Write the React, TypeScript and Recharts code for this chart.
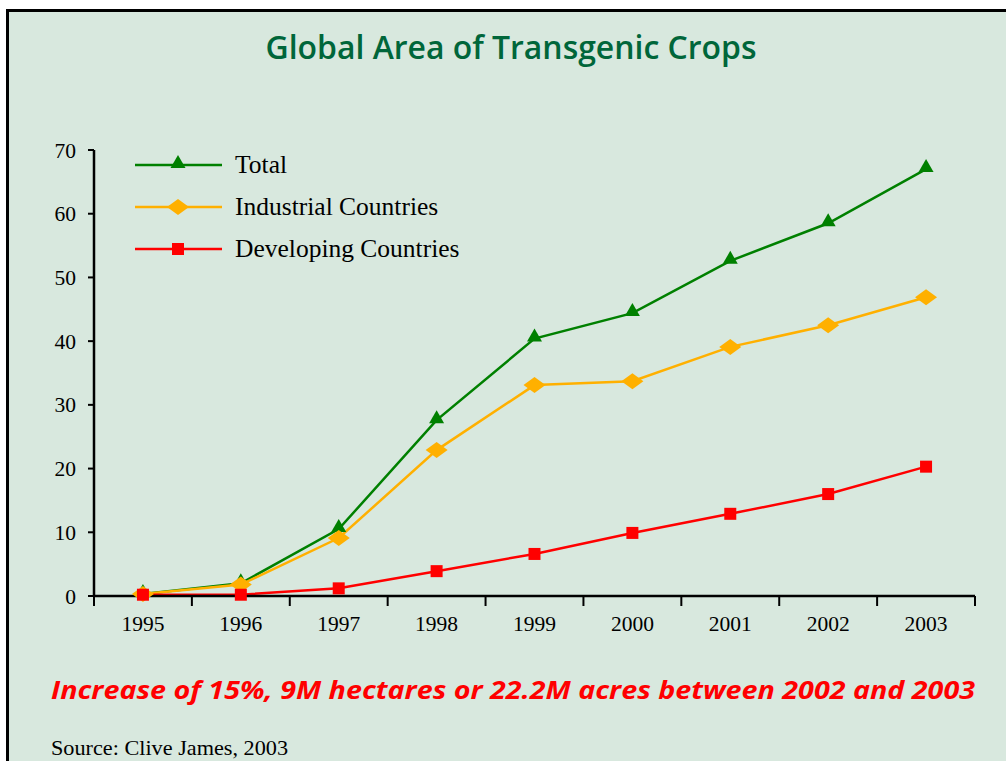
import React from "react";
import { LineChart, Line, XAxis, YAxis, Legend } from "recharts";

const years = ["1995", "1996", "1997", "1998", "1999", "2000", "2001", "2002", "2003"];
const total = [0.3, 2.0, 10.5, 27.6, 40.4, 44.4, 52.6, 58.5, 67.0];
const industrial = [0.3, 1.8, 9.1, 22.9, 33.1, 33.7, 39.1, 42.5, 46.9];
const developing = [0.2, 0.2, 1.2, 3.9, 6.6, 9.9, 12.9, 16.0, 20.3];
const yTicks = [0, 10, 20, 30, 40, 50, 60, 70];

const seriesInfo = [
  { key: "total", name: "Total", color: "#008000", shape: "triangle" },
  { key: "industrial", name: "Industrial Countries", color: "#ffb000", shape: "diamond" },
  { key: "developing", name: "Developing Countries", color: "#ff0000", shape: "square" },
];

const data = years.map((year, i) => ({
  year,
  total: total[i],
  industrial: industrial[i],
  developing: developing[i],
}));

const W = 1006;
const H = 761;
const MARGIN = { top: 150, right: 31, bottom: 135, left: 0 };
const Y_AXIS_W = 94;
const PLOT_W = W - MARGIN.left - MARGIN.right - Y_AXIS_W;
const BAND = PLOT_W / years.length;
const SERIF = "'Liberation Serif', 'DejaVu Serif', serif";

function Marker({ shape, cx, cy, color }: { shape: string; cx: number; cy: number; color: string }) {
  if (shape === "triangle") {
    return <polygon points={`${cx},${cy - 10} ${cx - 7.5},${cy + 3} ${cx + 7.5},${cy + 3}`} fill={color} />;
  }
  if (shape === "diamond") {
    return <polygon points={`${cx},${cy - 8} ${cx + 11},${cy} ${cx},${cy + 8} ${cx - 11},${cy}`} fill={color} />;
  }
  return <rect x={cx - 6} y={cy - 6} width={12} height={12} fill={color} />;
}

function makeDot(shape: string, color: string) {
  return (props: any) => {
    const { cx, cy, index } = props;
    if (cx == null || cy == null) return <g key={`e-${index}`} />;
    return (
      <g key={`${shape}-${index}`}>
        <Marker shape={shape} cx={cx} cy={cy} color={color} />
      </g>
    );
  };
}

function YearTick(props: any) {
  const { x, y, payload, index } = props;
  const left = x - BAND / 2;
  const last = index === years.length - 1;
  return (
    <g>
      <line x1={left} y1={y} x2={left} y2={y + 10} stroke="#000" strokeWidth={2} />
      {last && <line x1={left + BAND} y1={y} x2={left + BAND} y2={y + 10} stroke="#000" strokeWidth={2} />}
      <text x={x} y={y + 35} textAnchor="middle" fontFamily={SERIF} fontSize={21.5} fill="#000">
        {payload.value}
      </text>
    </g>
  );
}

function LegendBox() {
  return (
    <svg width={360} height={130}>
      {seriesInfo.map((s, i) => {
        const cy = 20 + i * 42;
        return (
          <g key={s.key}>
            <line x1={0} y1={cy} x2={87} y2={cy} stroke={s.color} strokeWidth={2.5} />
            <Marker shape={s.shape} cx={43} cy={cy} color={s.color} />
            <text x={100} y={cy + 8} fontFamily={SERIF} fontSize={25.5} fill="#000">
              {s.name}
            </text>
          </g>
        );
      })}
    </svg>
  );
}

export default function App() {
  return (
    <div style={{ position: "absolute", top: 0, left: 0, width: W, height: H, background: "#fff", overflow: "hidden" }}>
      <div
        style={{
          position: "absolute",
          top: 9,
          left: 6,
          width: W + 20,
          height: H + 20,
          background: "#d8e8de",
          borderTop: "3px solid #000",
          borderLeft: "3px solid #000",
        }}
      />
      <div style={{ position: "absolute", top: 0, left: 0 }}>
        <LineChart width={W} height={H} data={data} margin={MARGIN}>
          <XAxis
            dataKey="year"
            scale="band"
            height={30}
            axisLine={{ stroke: "#000", strokeWidth: 2.5 }}
            tickLine={false}
            tickSize={0}
            tickMargin={0}
            interval={0}
            tick={<YearTick />}
          />
          <YAxis
            width={Y_AXIS_W}
            domain={[0, 70]}
            ticks={yTicks}
            interval={0}
            axisLine={{ stroke: "#000", strokeWidth: 2.5 }}
            tickLine={{ stroke: "#000", strokeWidth: 2 }}
            tickSize={6}
            tickMargin={12}
            tick={{ fill: "#000", fontSize: 21.5, fontFamily: SERIF }}
          />
          <Legend
            layout="vertical"
            align="center"
            verticalAlign="middle"
            content={() => <LegendBox />}
            wrapperStyle={{ position: "absolute", left: 135, top: 145, width: 360 }}
          />
          {seriesInfo.map((s) => (
            <Line
              key={s.key}
              dataKey={s.key}
              name={s.name}
              type="linear"
              stroke={s.color}
              strokeWidth={2.5}
              dot={makeDot(s.shape, s.color)}
              activeDot={false}
              isAnimationActive={false}
            />
          ))}
        </LineChart>
      </div>
      <svg width={W} height={H} style={{ position: "absolute", top: 0, left: 0, pointerEvents: "none" }}>
        <text
          x={511}
          y={59}
          textAnchor="middle"
          fontFamily="'Open Sans', sans-serif"
          fontWeight={600}
          fontSize={33}
          fill="#00663a"
          textLength={491}
          lengthAdjust="spacingAndGlyphs"
        >
          Global Area of Transgenic Crops
        </text>
        <text
          x={51}
          y={699}
          fontFamily="'Open Sans', sans-serif"
          fontWeight={700}
          fontStyle="italic"
          fontSize={25.5}
          fill="#ff0000"
          textLength={924}
          lengthAdjust="spacingAndGlyphs"
        >
          Increase of 15%, 9M hectares or 22.2M acres between 2002 and 2003
        </text>
        <text x={51} y={755} fontFamily={SERIF} fontSize={21} fill="#000" textLength={237} lengthAdjust="spacingAndGlyphs">
          Source: Clive James, 2003
        </text>
      </svg>
    </div>
  );
}
